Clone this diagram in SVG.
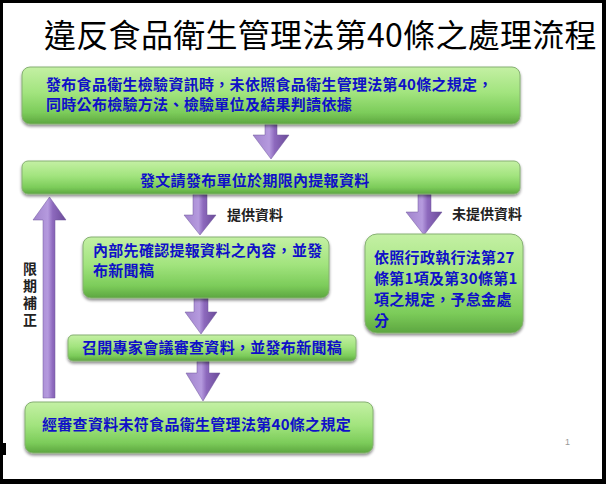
<svg xmlns="http://www.w3.org/2000/svg" width="606" height="484" viewBox="0 0 606 484">
<defs>
<linearGradient id="gBox" x1="0" y1="0" x2="0" y2="1">
<stop offset="0" stop-color="#c4f0a4"/>
<stop offset="0.45" stop-color="#a2e47e"/>
<stop offset="0.8" stop-color="#7ccc5a"/>
<stop offset="1" stop-color="#5da640"/>
</linearGradient>
<linearGradient id="gArr" x1="0" y1="0" x2="1" y2="0">
<stop offset="0" stop-color="#a184cc"/>
<stop offset="0.45" stop-color="#b59ade"/>
<stop offset="0.6" stop-color="#8d69bd"/>
<stop offset="1" stop-color="#6a4a98"/>
</linearGradient>
<filter id="sh" x="-5%" y="-10%" width="110%" height="130%">
<feGaussianBlur in="SourceAlpha" stdDeviation="1.5"/>
<feOffset dx="0" dy="2" result="b"/>
<feComponentTransfer><feFuncA type="linear" slope="0.45"/></feComponentTransfer>
<feMerge><feMergeNode/><feMergeNode in="SourceGraphic"/></feMerge>
</filter>
</defs>
<style>
.box{fill:url(#gBox);stroke:#86b073;stroke-width:1;filter:url(#sh)}
.bt{font-family:"Noto Sans CJK TC","Noto Sans CJK SC",sans-serif;font-size:15px;font-weight:bold;fill:#1010c8;letter-spacing:0.3px}
.lbl{font-family:"Noto Sans CJK TC","Noto Sans CJK SC",sans-serif;font-size:14px;font-weight:bold;fill:#222}
.arr{fill:url(#gArr);stroke:#6d559a;stroke-width:0.5}
</style>
<rect x="0" y="0" width="606" height="484" fill="#000"/>
<rect x="3" y="3" width="599" height="476" fill="#fff"/>
<rect x="3" y="443" width="3" height="12" fill="#000"/>
<text x="44" y="47" font-family="Noto Sans CJK TC, Noto Sans CJK SC, sans-serif" font-size="32" fill="#000" letter-spacing="0.3">違反食品衛生管理法第40條之處理流程</text>
<g id="connectors">
<path class="arr" d="M265,124 H277 V135 H289 L271,159 L253,135 H265 Z"/>
<path class="arr" d="M193,194 H207 V215 H216 L200,235 L184,215 H193 Z"/>
<path class="arr" d="M418,194 H431 V212 H442 L424,235 L406,212 H418 Z"/>
<path class="arr" d="M194,298 H208 V312 H217 L201,334 L185,312 H194 Z"/>
<path class="arr" d="M197,361 H209 V373 H220 L203,401 L186,373 H197 Z"/>
<path class="arr" d="M43,398 V220 H33 L49.5,197 L66,220 H55 V398 Z"/>
<g class="lbl">
<text x="227" y="220">提供資料</text>
<text x="452" y="219">未提供資料</text>
<text x="30" y="262" style="writing-mode:vertical-rl;letter-spacing:3px">限期補正</text>
</g>
</g>
<g id="n1">
<rect class="box" x="22" y="67" width="498" height="57" rx="8"/>
<text class="bt" x="46" y="90">發布食品衛生檢驗資訊時，未依照食品衛生管理法第40條之規定，</text>
<text class="bt" x="46" y="110">同時公布檢驗方法、檢驗單位及結果判讀依據</text>
</g>
<g id="n2">
<rect class="box" x="22" y="161" width="498" height="33" rx="6"/>
<text class="bt" x="140" y="186">發文請發布單位於期限內提報資料</text>
</g>
<g id="n3">
<rect class="box" x="83" y="237" width="246" height="61" rx="8"/>
<text class="bt" x="93" y="256">內部先確認提報資料之內容，並發</text>
<text class="bt" x="93" y="276">布新聞稿</text>
</g>
<g id="n4">
<rect class="box" x="365" y="234" width="158" height="99" rx="12"/>
<text class="bt" x="374" y="263">依照行政執行法第27</text>
<text class="bt" x="374" y="284">條第1項及第30條第1</text>
<text class="bt" x="374" y="305">項之規定，予怠金處</text>
<text class="bt" x="374" y="326">分</text>
</g>
<g id="n5">
<rect class="box" x="68" y="335" width="288" height="26" rx="5"/>
<text class="bt" x="212" y="353" text-anchor="middle">召開專家會議審查資料，並發布新聞稿</text>
</g>
<g id="n6">
<rect class="box" x="25" y="402" width="348" height="51" rx="8"/>
<text class="bt" x="42" y="430">經審查資料未符食品衛生管理法第40條之規定</text>
</g>
<text x="565" y="445" font-family="Liberation Sans, sans-serif" font-size="9" fill="#999">1</text>
</svg>
